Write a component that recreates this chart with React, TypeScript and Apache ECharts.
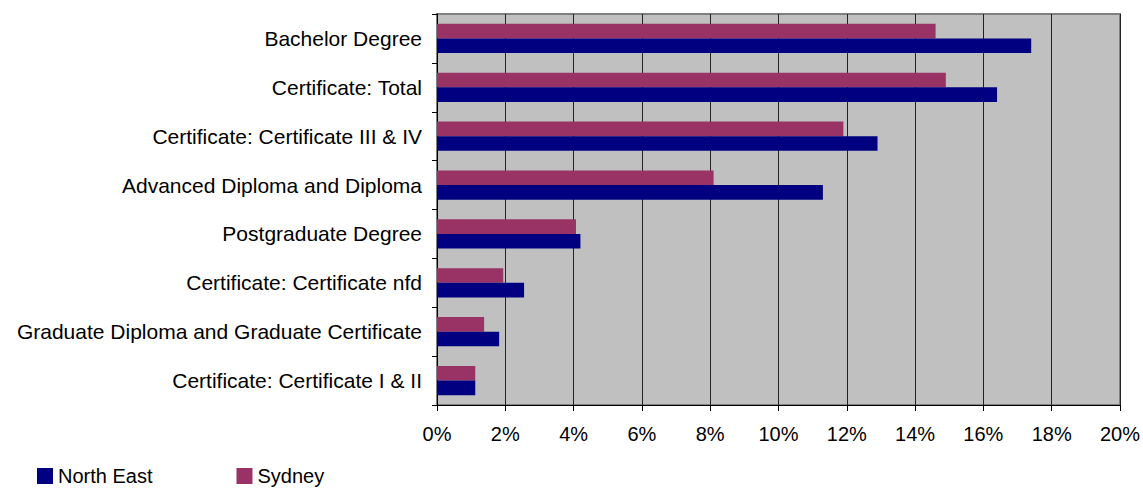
import React, { useEffect, useRef } from "react";
import * as echarts from "echarts";

const categories = [
  "Bachelor Degree",
  "Certificate: Total",
  "Certificate: Certificate III & IV",
  "Advanced Diploma and Diploma",
  "Postgraduate Degree",
  "Certificate: Certificate nfd",
  "Graduate Diploma and Graduate Certificate",
  "Certificate: Certificate I & II",
];
const northEast = [17.4, 16.4, 12.9, 11.3, 4.2, 2.55, 1.82, 1.12];
const sydney = [14.6, 14.9, 11.9, 8.1, 4.07, 1.94, 1.38, 1.12];
const xTicks = [0, 2, 4, 6, 8, 10, 12, 14, 16, 18, 20];

export default function App() {
  const ref = useRef<HTMLDivElement>(null);
  useEffect(() => {
    const chart = echarts.init(ref.current!, null, { renderer: "svg" });
    const font = "Liberation Sans, Arial, sans-serif";
    chart.setOption({
      animation: false,
      textStyle: { fontFamily: font },
      grid: {
        left: 437,
        right: 22,
        top: 14,
        bottom: 83,
        show: true,
        backgroundColor: "#c0c0c0",
        borderColor: "#808080",
        borderWidth: 2,
      },
      legend: {
        left: 37,
        top: 466,
        itemWidth: 16,
        itemHeight: 16,
        itemGap: 84,
        padding: 0,
        icon: "rect",
        data: ["North East", "Sydney"],
        textStyle: { fontSize: 20, color: "#000", fontFamily: font },
      },
      xAxis: {
        type: "value",
        min: xTicks[0],
        max: xTicks[xTicks.length - 1],
        interval: 2,
        axisLine: { show: true, lineStyle: { color: "#000", width: 1 } },
        axisTick: { show: true, length: 6, lineStyle: { color: "#000" } },
        axisLabel: {
          formatter: (v: number) => v + "%",
          fontSize: 20,
          color: "#000",
          margin: 19,
          fontFamily: font,
        },
        splitLine: { show: true, lineStyle: { color: "#222", width: 1 } },
      },
      yAxis: {
        type: "category",
        data: categories,
        inverse: true,
        axisLine: { show: true, lineStyle: { color: "#000", width: 1 } },
        axisTick: { show: true, length: 5, lineStyle: { color: "#000" } },
        axisLabel: { fontSize: 21, color: "#000", margin: 15, fontFamily: font },
      },
      series: [
        {
          name: "Sydney",
          type: "bar",
          data: sydney,
          itemStyle: { color: "#993366" },
          barGap: "0%",
          barCategoryGap: "40%",
        },
        {
          name: "North East",
          type: "bar",
          data: northEast,
          itemStyle: { color: "#000080" },
          barGap: "0%",
          barCategoryGap: "40%",
        },
      ],
    });
    return () => chart.dispose();
  }, []);
  return <div ref={ref} style={{ width: 1143, height: 488, position: "absolute", left: 0, top: 0 }} />;
}
